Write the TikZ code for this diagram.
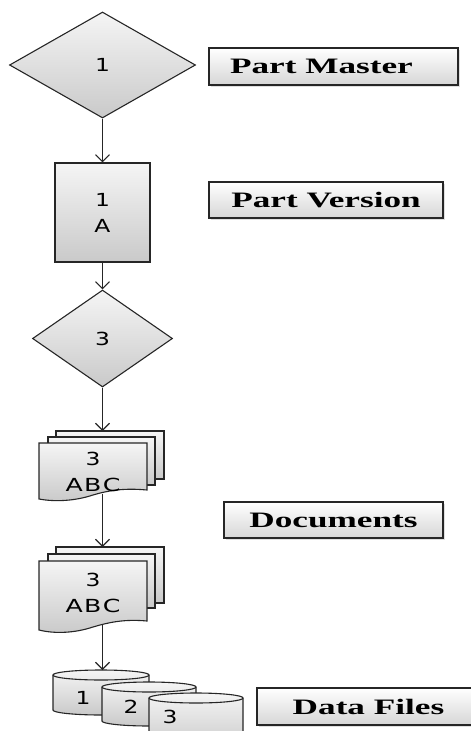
\documentclass[tikz,border=0pt]{standalone}
\usepackage{fontspec}
\newfontfamily\lblfont{Liberation Serif}
\newfontfamily\shpfont{DejaVu Sans}
\usetikzlibrary{shapes.geometric,arrows.meta,shadows}
\begin{document}
\begin{tikzpicture}[x=1pt,y=-1pt,
  shp/.style={draw=black!85, line width=1.1pt, top color=gray!8, bottom color=gray!42},
  shptxt/.style={font=\shpfont\fontsize{18}{26}\selectfont, align=center, inner sep=0pt},
  dia/.style={shp, shptxt, diamond},
  lbl/.style={draw=black!85, line width=1.2pt, top color=white, bottom color=gray!32, inner sep=0pt,
    font=\lblfont\bfseries\fontsize{22}{24}\selectfont,
    drop shadow={opacity=0.25,shadow xshift=1.5pt,shadow yshift=-1.5pt}},
  arr/.style={draw=black!85, line width=1.1pt, -{Straight Barb[length=7pt,width=14pt]}}
]
\useasboundingbox (0,0) rectangle (471,731);

% shapes on the left
\node[dia, minimum width=186pt, minimum height=106pt] (d1) at (102.5,65) {\scalebox{1.3}[1]{1}};
\node[shp, shptxt, minimum width=95pt, minimum height=99pt] (r1) at (102.5,212.5)
  {\scalebox{1.3}[1]{1}\\\scalebox{1.3}[1]{A}};
\node[dia, minimum width=140pt, minimum height=97pt] (d3) at (102.5,338.5) {\scalebox{1.3}[1]{3}};

% document stack 1
\path[shp] (56,431) rectangle (164,479);
\path[shp] (48,437) rectangle (155,485);
\path[shp] (39,443) -- (147,443) -- (147,490)
  .. controls (125,488) and (110,490) .. (93,495)
  .. controls (75,501) and (55,502) .. (39,499) -- cycle;
\node[shptxt] (doc1) at (93,472) {\scalebox{1.3}[1]{3}\\\scalebox{1.4}[1]{A\hspace{1pt}B\hspace{1pt}C}};
\coordinate (doc1top) at (102.5,431);
\coordinate (doc1bot) at (102.5,494);

% document stack 2
\path[shp] (56,547) rectangle (164,603);
\path[shp] (48,554) rectangle (155,608);
\path[shp] (39,561) -- (147,561) -- (147,621)
  .. controls (125,619) and (110,622) .. (93,627)
  .. controls (75,633) and (55,634) .. (39,630) -- cycle;
\node[shptxt] (doc2) at (93,593) {\scalebox{1.3}[1]{3}\\\scalebox{1.4}[1]{A\hspace{1pt}B\hspace{1pt}C}};
\coordinate (doc2top) at (102.5,547);
\coordinate (doc2bot) at (102.5,625);

% cylinders
\path[shp] (53,675) -- (53,710) arc[start angle=180,end angle=360,x radius=48pt,y radius=5pt]
  -- (149,675) arc[start angle=0,end angle=180,x radius=48pt,y radius=5pt] -- cycle;
\draw[draw=black!85, line width=1.1pt] (53,675) arc[start angle=180,end angle=360,x radius=48pt,y radius=5pt];
\path[shp] (102,687) -- (102,721) arc[start angle=180,end angle=360,x radius=47pt,y radius=5pt]
  -- (196,687) arc[start angle=0,end angle=180,x radius=47pt,y radius=5pt] -- cycle;
\draw[draw=black!85, line width=1.1pt] (102,687) arc[start angle=180,end angle=360,x radius=47pt,y radius=5pt];
\path[shp] (149,698) -- (149,745) arc[start angle=180,end angle=360,x radius=47pt,y radius=5pt]
  -- (243,698) arc[start angle=0,end angle=180,x radius=47pt,y radius=5pt] -- cycle;
\draw[draw=black!85, line width=1.1pt] (149,698) arc[start angle=180,end angle=360,x radius=47pt,y radius=5pt];
\node[shptxt] (c1) at (83,698) {\scalebox{1.3}[1]{1}};
\node[shptxt] (c2) at (131,707) {\scalebox{1.3}[1]{2}};
\node[shptxt] (c3) at (170,717) {\scalebox{1.3}[1]{3}};
\coordinate (cyltop) at (102.5,670);

% labels
\node[lbl, minimum width=249pt, minimum height=37pt] (pm) at (333.5,66.5)
  {\hspace*{-24pt}\scalebox{1.6}[1]{Part Master}};
\node[lbl, minimum width=234pt, minimum height=36pt] (pv) at (326,200)
  {\scalebox{1.6}[1]{Part Version}};
\node[lbl, minimum width=219pt, minimum height=36pt] (docs) at (333.5,520)
  {\scalebox{1.6}[1]{Documents}};
\node[lbl, minimum width=223pt, minimum height=37pt] (df) at (368.5,706.5)
  {\scalebox{1.6}[1]{Data Files}};

% connectors
\draw[arr] (d1.south) -- (r1.north);
\draw[arr] (r1.south) -- (d3.north);
\draw[arr] (d3.south) -- (doc1top);
\draw[arr] (doc1bot) -- (doc2top);
\draw[arr] (doc2bot) -- (cyltop);
\end{tikzpicture}
\end{document}
